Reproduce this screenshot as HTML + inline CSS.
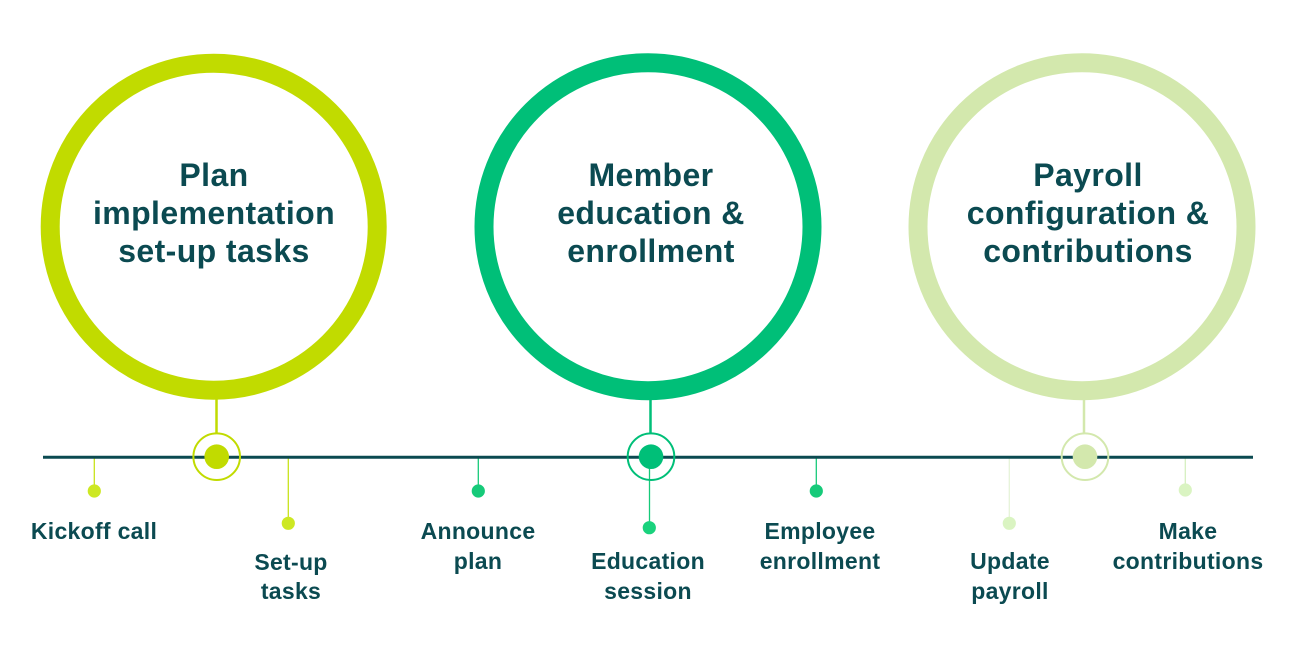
<!DOCTYPE html>
<html>
<head>
<meta charset="utf-8">
<style>
  html, body { margin:0; padding:0; background:#ffffff; }
  body { width:1314px; height:658px; overflow:hidden; }
  svg { display:block; }
  .big { font-family:"Liberation Sans", Arial, sans-serif; font-weight:700; font-size:32px; fill:#0b4a51; letter-spacing:0.4px; }
  .lbl { font-family:"Liberation Sans", Arial, sans-serif; font-weight:700; font-size:23px; fill:#0b4a51; letter-spacing:0.3px; }
</style>
</head>
<body>
<svg width="1314" height="658" viewBox="0 0 1314 658" xmlns="http://www.w3.org/2000/svg">
  <!-- Big circles -->
  <circle cx="213.7" cy="226.7" r="163.5" fill="none" stroke="#c1db00" stroke-width="19"/>
  <circle cx="648" cy="226.7" r="164" fill="none" stroke="#00bf78" stroke-width="19"/>
  <circle cx="1082" cy="226.7" r="164" fill="none" stroke="#d3e8ad" stroke-width="19"/>

  <!-- Circle texts -->
  <g class="big" text-anchor="middle">
    <text x="214" y="186">Plan</text>
    <text x="214" y="224">implementation</text>
    <text x="214" y="262">set-up tasks</text>

    <text x="651" y="186">Member</text>
    <text x="651" y="224">education &amp;</text>
    <text x="651" y="262">enrollment</text>

    <text x="1088" y="186">Payroll</text>
    <text x="1088" y="224">configuration &amp;</text>
    <text x="1088" y="262">contributions</text>
  </g>

  <!-- Connectors circle -> node -->
  <line x1="216.5" y1="398" x2="216.5" y2="433" stroke="#c1db00" stroke-width="2.5"/>
  <line x1="650.5" y1="399" x2="650.5" y2="433" stroke="#00bf78" stroke-width="2.5"/>
  <line x1="1084" y1="399" x2="1084" y2="433" stroke="#d3e8ad" stroke-width="2.5"/>

  <!-- Small ticks -->
  <line x1="94.3" y1="458" x2="94.3" y2="491" stroke="#c8e31a" stroke-width="1.3"/>
  <line x1="288.3" y1="458" x2="288.3" y2="523" stroke="#c8e31a" stroke-width="1.3"/>
  <line x1="478.3" y1="458" x2="478.3" y2="491" stroke="#16ca79" stroke-width="1.3"/>
  <line x1="649.5" y1="458" x2="649.5" y2="527" stroke="#16ca79" stroke-width="1.3"/>
  <line x1="816.3" y1="458" x2="816.3" y2="491" stroke="#16ca79" stroke-width="1.3"/>
  <line x1="1009.3" y1="458" x2="1009.3" y2="523" stroke="#e6f3d8" stroke-width="1.3"/>
  <line x1="1185.3" y1="458" x2="1185.3" y2="490" stroke="#d6efc0" stroke-width="1.3"/>

  <!-- Timeline -->
  <line x1="43" y1="457.3" x2="1253" y2="457.3" stroke="#0b4a51" stroke-width="3"/>

  <!-- Main nodes -->
  <circle cx="216.7" cy="456.7" r="23.3" fill="none" stroke="#c1db00" stroke-width="2"/>
  <circle cx="216.7" cy="456.7" r="12.3" fill="#c1db00"/>

  <circle cx="651" cy="456.7" r="23.3" fill="none" stroke="#00bf78" stroke-width="2"/>
  <circle cx="651" cy="456.7" r="12.3" fill="#00bf78"/>

  <circle cx="1085" cy="456.7" r="23.3" fill="none" stroke="#d3e8ad" stroke-width="2"/>
  <circle cx="1085" cy="456.7" r="12.3" fill="#d3e8ad"/>

  <!-- Small dots -->
  <circle cx="94.3" cy="491" r="6.6" fill="#cde823"/>
  <circle cx="288.3" cy="523.3" r="6.6" fill="#cde823"/>
  <circle cx="478.3" cy="491" r="6.6" fill="#16ca79"/>
  <circle cx="649.3" cy="527.7" r="6.6" fill="#1ad27d"/>
  <circle cx="816.3" cy="491" r="6.6" fill="#16ca79"/>
  <circle cx="1009.3" cy="523.3" r="6.6" fill="#daf4c2"/>
  <circle cx="1185.3" cy="490" r="6.6" fill="#daf4c2"/>

  <!-- Labels -->
  <g class="lbl" text-anchor="middle">
    <text x="94" y="539">Kickoff call</text>

    <text x="291" y="570">Set-up</text>
    <text x="291" y="599">tasks</text>

    <text x="478" y="539">Announce</text>
    <text x="478" y="569">plan</text>

    <text x="648" y="569">Education</text>
    <text x="648" y="599">session</text>

    <text x="820" y="539">Employee</text>
    <text x="820" y="569">enrollment</text>

    <text x="1010" y="569">Update</text>
    <text x="1010" y="599">payroll</text>

    <text x="1188" y="539">Make</text>
    <text x="1188" y="569">contributions</text>
  </g>
</svg>
</body>
</html>
